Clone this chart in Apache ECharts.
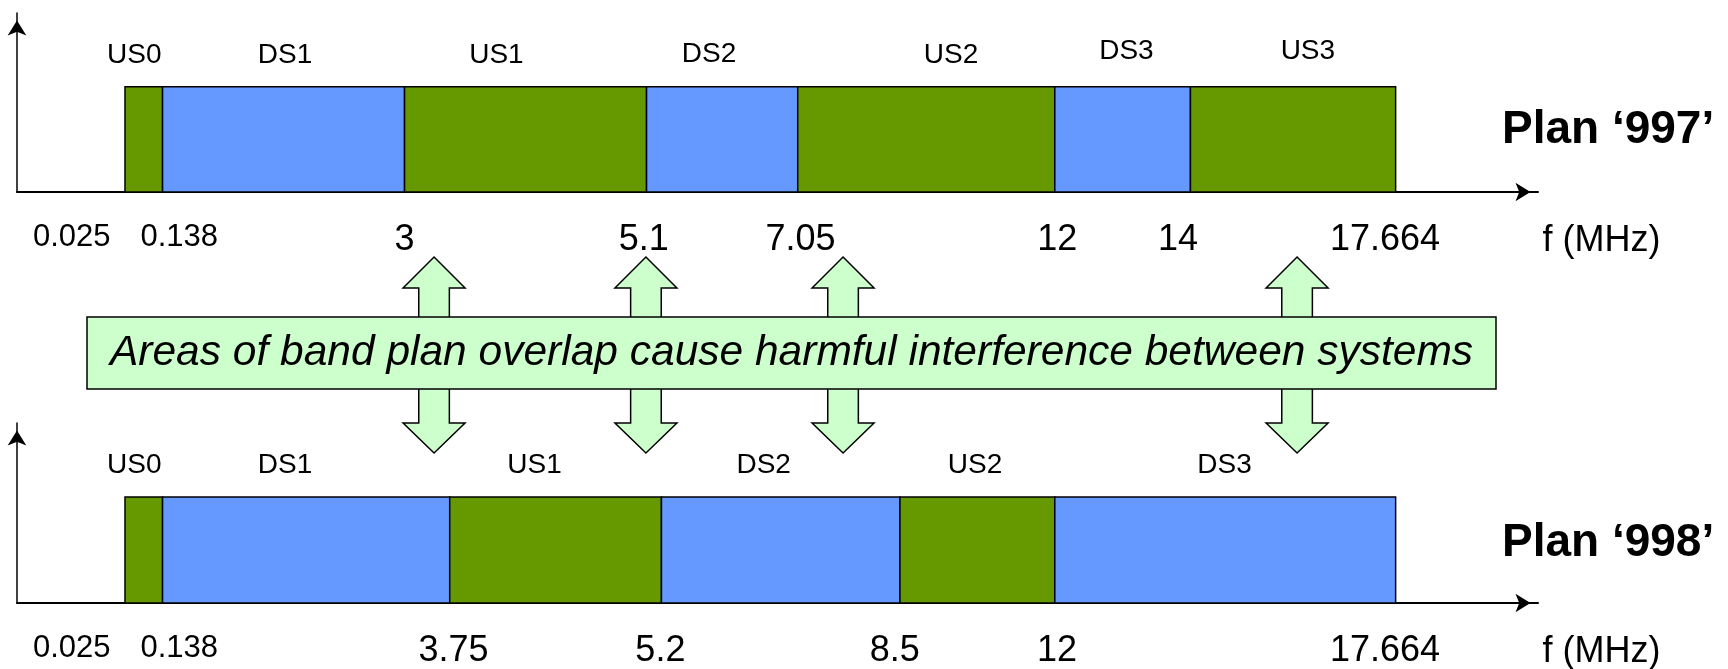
<!DOCTYPE html>
<html>
<head>
<meta charset="utf-8">
<script src="https://cdn.jsdelivr.net/npm/echarts/dist/echarts.min.js"></script>
<style>
  html, body { margin: 0; padding: 0; background: #fff; }
  #chart { width: 1728px; height: 669px; }
</style>
</head>
<body>
<div id="chart"></div>
<script>
// ---- DATA (x values are schematic positions along the drawn frequency axis, 0..100) ----
const plan997Names = ['US0', 'DS1', 'US1', 'DS2', 'US2', 'DS3', 'US3'];
const plan997Edges = [7.10, 9.57, 25.48, 41.39, 51.33, 68.23, 77.15, 90.64];
const plan997LabelAt = [7.71, 17.62, 31.52, 45.50, 61.41, 72.94, 84.87];
const plan997LabelLevel = [1.30, 1.30, 1.30, 1.31, 1.30, 1.335, 1.335];
const plan997TickText = ['0.025', '0.138', '3', '5.1', '7.05', '12', '14', '17.664'];
const plan997TickAt = [3.60, 10.67, 25.48, 41.20, 51.51, 68.40, 76.33, 89.94];

const plan998Names = ['US0', 'DS1', 'US1', 'DS2', 'US2', 'DS3'];
const plan998Edges = [7.10, 9.57, 28.45, 42.37, 58.05, 68.23, 90.64];
const plan998LabelAt = [7.71, 17.62, 34.03, 49.09, 62.99, 79.39];
const plan998LabelLevel = [1.30, 1.30, 1.30, 1.30, 1.30, 1.30];
const plan998TickText = ['0.025', '0.138', '3.75', '5.2', '8.5', '12', '17.664'];
const plan998TickAt = [3.60, 10.67, 28.70, 42.30, 57.71, 68.38, 89.94];

const overlapAt = [27.42, 41.35, 54.31, 84.16];
const bandLevel = 1;
const planTitles = ['Plan \u2018997\u2019', 'Plan \u2018998\u2019'];
const axisName = 'f (MHz)';
const noteText = 'Areas of band plan overlap cause harmful interference between systems';

// ---- STYLE ----
const FONT = '"Liberation Sans", Arial, Helvetica, sans-serif';
const GREEN = '#669900', BLUE = '#6699FF', NOTE_FILL = '#CCFFCC';

const chart = echarts.init(document.getElementById('chart'), null, { renderer: 'canvas' });

function bandData(names, edges) {
  return names.map((n, i) => [edges[i], edges[i + 1], n.indexOf('DS') === 0 ? 1 : 0]);
}
function labelData(at, level) {
  return at.map((x, i) => [x, level[i]]);
}

function xAxisFor(gridIndex, tickAt, tickText) {
  return {
    type: 'value', gridIndex: gridIndex, min: 0, max: 100,
    axisLine: { show: true, onZero: true, symbol: ['none', 'arrow'], symbolSize: [14, 15], symbolOffset: [0, -7.5],
      lineStyle: { color: '#000', width: 2 } },
    axisTick: { show: false },
    splitLine: { show: false },
    axisLabel: {
      show: true,
      customValues: tickAt,
      margin: 30,
      verticalAlign: 'top',
      color: '#000',
      fontFamily: FONT,
      formatter: function (v) {
        let best = 0, d = Infinity;
        tickAt.forEach((t, i) => { const dd = Math.abs(t - v); if (dd < d) { d = dd; best = i; } });
        return (best < 2 ? '{s|' : '{b|') + tickText[best] + '}';
      },
      rich: {
        s: { fontSize: 31, lineHeight: 31, fontFamily: FONT, color: '#000' },
        b: { fontSize: 36, lineHeight: 36, fontFamily: FONT, color: '#000' }
      }
    },
    name: axisName,
    nameLocation: 'end',
    nameGap: 4.5,
    nameTextStyle: { fontSize: 36, lineHeight: 98, fontFamily: FONT, color: '#000',
      align: 'left', verticalAlign: 'top' }
  };
}
function yAxisFor(gridIndex) {
  return {
    type: 'value', gridIndex: gridIndex, min: 0, max: 1.7,
    axisLine: { show: true, symbol: ['none', 'arrow'], symbolSize: [14, 15], symbolOffset: [0, -7.5],
      lineStyle: { color: '#000', width: 1.5 } },
    axisTick: { show: false }, axisLabel: { show: false }, splitLine: { show: false }
  };
}

function bandSeries(idx, data) {
  return {
    type: 'custom', xAxisIndex: idx, yAxisIndex: idx, data: data, z: 3, silent: true,
    renderItem: function (params, api) {
      const p0 = api.coord([api.value(0), bandLevel]);
      const p1 = api.coord([api.value(1), 0]);
      return {
        type: 'rect',
        shape: { x: p0[0], y: p0[1], width: p1[0] - p0[0], height: p1[1] - p0[1] },
        style: { fill: api.value(2) ? BLUE : GREEN, stroke: '#000', lineWidth: 1.5 }
      };
    }
  };
}
function labelSeries(idx, data, names) {
  return {
    type: 'custom', xAxisIndex: idx, yAxisIndex: idx, data: data, z: 4, silent: true,
    renderItem: function (params, api) {
      const p = api.coord([api.value(0), api.value(1)]);
      return {
        type: 'text', x: p[0], y: p[1],
        style: { text: names[params.dataIndex], fontSize: 28, fontFamily: FONT, fill: '#000',
          align: 'center', verticalAlign: 'middle' }
      };
    }
  };
}

const option = {
  backgroundColor: '#fff',
  animation: false,
  title: [
    { text: planTitles[0], left: 1502, top: 107, padding: 0,
      textStyle: { fontSize: 46, lineHeight: 46, fontWeight: 'bold', fontFamily: FONT, color: '#000' } },
    { text: planTitles[1], left: 1502, top: 520, padding: 0,
      textStyle: { fontSize: 46, lineHeight: 46, fontWeight: 'bold', fontFamily: FONT, color: '#000' } }
  ],
  grid: [
    { left: 17, top: 13, width: 1521, height: 179, containLabel: false, outerBoundsMode: 'none' },
    { left: 17, top: 423, width: 1521, height: 180, containLabel: false, outerBoundsMode: 'none' },
    { left: 17, top: 257, width: 1521, height: 196, containLabel: false, outerBoundsMode: 'none' }
  ],
  xAxis: [
    xAxisFor(0, plan997TickAt, plan997TickText),
    xAxisFor(1, plan998TickAt, plan998TickText),
    { type: 'value', gridIndex: 2, min: 0, max: 100, show: false }
  ],
  yAxis: [
    yAxisFor(0),
    yAxisFor(1),
    { type: 'value', gridIndex: 2, min: 0, max: 1, show: false }
  ],
  series: [
    bandSeries(0, bandData(plan997Names, plan997Edges)),
    labelSeries(0, labelData(plan997LabelAt, plan997LabelLevel), plan997Names),
    bandSeries(1, bandData(plan998Names, plan998Edges)),
    labelSeries(1, labelData(plan998LabelAt, plan998LabelLevel), plan998Names),
    {
      type: 'custom', xAxisIndex: 2, yAxisIndex: 2, z: 5, silent: true,
      data: overlapAt.map(v => [v]),
      renderItem: function (params, api) {
        const t = api.coord([api.value(0), 1]);
        const b = api.coord([api.value(0), 0]);
        const cx = t[0], yT = t[1], yB = b[1];
        const hw = 31, sw = 15.3, hl = 31;
        return {
          type: 'polygon',
          shape: { points: [
            [cx, yT], [cx + hw, yT + hl], [cx + sw, yT + hl], [cx + sw, yB - hl + 1], [cx + hw, yB - hl + 1],
            [cx, yB], [cx - hw, yB - hl + 1], [cx - sw, yB - hl + 1], [cx - sw, yT + hl], [cx - hw, yT + hl]
          ] },
          style: { fill: NOTE_FILL, stroke: '#000', lineWidth: 1.5 }
        };
      }
    }
  ],
  graphic: [
    { type: 'rect', z: 100, shape: { x: 87, y: 317, width: 1409, height: 72 },
      style: { fill: NOTE_FILL, stroke: '#000', lineWidth: 1.5 } },
    { type: 'text', z: 101, x: 791.5, y: 353,
      style: { text: noteText, font: 'italic 42.5px ' + FONT, fill: '#000', align: 'center', verticalAlign: 'middle' } }
  ]
};
chart.setOption(option);
</script>
</body>
</html>
